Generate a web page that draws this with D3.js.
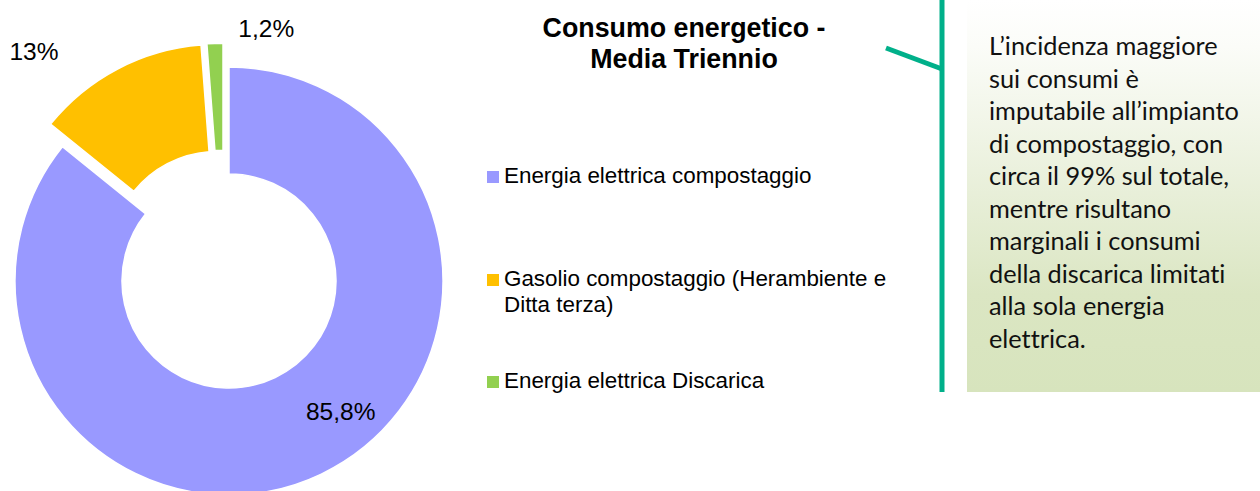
<!DOCTYPE html>
<html>
<head>
<meta charset="utf-8">
<script src="https://cdn.jsdelivr.net/npm/d3@7"></script>
<style>
  html, body { margin: 0; padding: 0; background: #ffffff; }
  svg { display: block; }
  text { font-variant-ligatures: none; font-feature-settings: "liga" 0, "clig" 0; }
</style>
</head>
<body>
<svg id="chart" width="1260" height="491"></svg>
<script>
// ---- data ----
const categories = ["Energia elettrica compostaggio", "Gasolio compostaggio (Herambiente e Ditta terza)", "Energia elettrica Discarica"];
const values = [85.8, 13, 1.2];
const valueLabels = ["85,8%", "13%", "1,2%"];
const legendLines = [["Energia elettrica compostaggio"], ["Gasolio compostaggio (Herambiente e", "Ditta terza)"], ["Energia elettrica Discarica"]];
const titleLines = ["Consumo energetico -", "Media Triennio"];
const noteLines = [
  "L\u2019incidenza maggiore",
  "sui consumi \u00e8",
  "imputabile all\u2019impianto",
  "di compostaggio, con",
  "circa il 99% sul totale,",
  "mentre risultano",
  "marginali i consumi",
  "della discarica limitati",
  "alla sola energia",
  "elettrica."
];

// ---- style ----
const colors = ["#9999ff", "#ffc000", "#92d050"];
const cx = 229, cy = 281, outerR = 214, innerR = 107;
const explodeDist = [0, 25.5, 24.5];
const explodeTurn = [0, 0, -12];            // degrees added to the bisector direction
const labelPolar = [[139.5, 172], [319.6, 301], [8.4, 255]]; // [angle deg clockwise from top, radius]

const svg = d3.select("#chart");
const defs = svg.append("defs");
const grad = defs.append("linearGradient").attr("id", "boxGrad")
  .attr("x1", 0).attr("y1", 0).attr("x2", 0).attr("y2", 1);
grad.append("stop").attr("offset", "0%").attr("stop-color", "#ffffff");
grad.append("stop").attr("offset", "12%").attr("stop-color", "#fbfcf8");
grad.append("stop").attr("offset", "75%").attr("stop-color", "#dbe6c3");
grad.append("stop").attr("offset", "100%").attr("stop-color", "#d7e4bd");

// ---- donut ----
const pie = d3.pie().sort(null).value(d => d).startAngle(0).endAngle(2 * Math.PI);
const arcs = pie(values);
const arc = d3.arc().innerRadius(innerR).outerRadius(outerR);
const g = svg.append("g").attr("transform", `translate(${cx},${cy})`);

g.selectAll("path.slice").data(arcs).enter().append("path")
  .attr("class", "slice")
  .attr("d", arc)
  .attr("fill", (d, i) => colors[i])
  .attr("stroke", "#ffffff")
  .attr("stroke-width", 1.5)
  .attr("transform", (d, i) => {
    const a = (d.startAngle + d.endAngle) / 2 + explodeTurn[i] * Math.PI / 180;
    return `translate(${Math.sin(a) * explodeDist[i]},${-Math.cos(a) * explodeDist[i]})`;
  });

g.selectAll("text.lbl").data(arcs).enter().append("text")
  .attr("class", "lbl")
  .attr("x", (d, i) => Math.sin(labelPolar[i][0] * Math.PI / 180) * labelPolar[i][1])
  .attr("y", (d, i) => -Math.cos(labelPolar[i][0] * Math.PI / 180) * labelPolar[i][1])
  .attr("dy", "0.35em")
  .attr("text-anchor", "middle")
  .attr("font-family", "'Liberation Sans', Arial, sans-serif")
  .attr("font-size", 24.5)
  .attr("fill", "#000")
  .text((d, i) => valueLabels[i]);

// ---- title ----
svg.append("text")
  .attr("x", 684).attr("y", 37)
  .attr("text-anchor", "middle")
  .attr("font-family", "'Liberation Sans', Arial, sans-serif")
  .attr("font-weight", "bold")
  .attr("font-size", 26.8)
  .attr("fill", "#000")
  .selectAll("tspan").data(titleLines).enter().append("tspan")
  .attr("x", 684).attr("dy", (d, i) => i === 0 ? 0 : 31)
  .text(d => d);

// ---- legend ----
const legendY = [183, 286, 388];
const legend = svg.append("g");
categories.forEach((c, i) => {
  legend.append("rect")
    .attr("x", 487).attr("y", legendY[i] - 12)
    .attr("width", 12).attr("height", 12)
    .attr("fill", colors[i]);
  const t = legend.append("text")
    .attr("x", 504).attr("y", legendY[i])
    .attr("font-family", "'Liberation Sans', Arial, sans-serif")
    .attr("font-size", 22.4)
    .attr("fill", "#000");
  legendLines[i].forEach((ln, j) => {
    t.append("tspan").attr("x", 504).attr("dy", j === 0 ? 0 : 26).text(ln);
  });
});

// ---- note box ----
svg.append("rect")
  .attr("x", 967).attr("y", 0).attr("width", 293).attr("height", 392)
  .attr("fill", "url(#boxGrad)");

svg.append("line")
  .attr("x1", 942).attr("y1", 0).attr("x2", 942).attr("y2", 392)
  .attr("stroke", "#00b08a").attr("stroke-width", 5);
svg.append("line")
  .attr("x1", 886).attr("y1", 48).attr("x2", 942).attr("y2", 69)
  .attr("stroke", "#00b08a").attr("stroke-width", 5);

const note = svg.append("text")
  .attr("x", 989).attr("y", 55)
  .attr("font-family", "Lato, 'Open Sans', sans-serif")
  .attr("font-size", 22)
  .attr("fill", "#111");
noteLines.forEach((ln, j) => {
  note.append("tspan").attr("x", 989).attr("dy", j === 0 ? 0 : 32.5).text(ln);
});
// fit the widest line to the measured width (~250px) since Calibri isn't available
const probe = note.selectAll("tspan").nodes()[2];
const w = probe.getComputedTextLength();
if (w > 0) note.attr("font-size", 22 * 250 / w);
</script>
</body>
</html>
